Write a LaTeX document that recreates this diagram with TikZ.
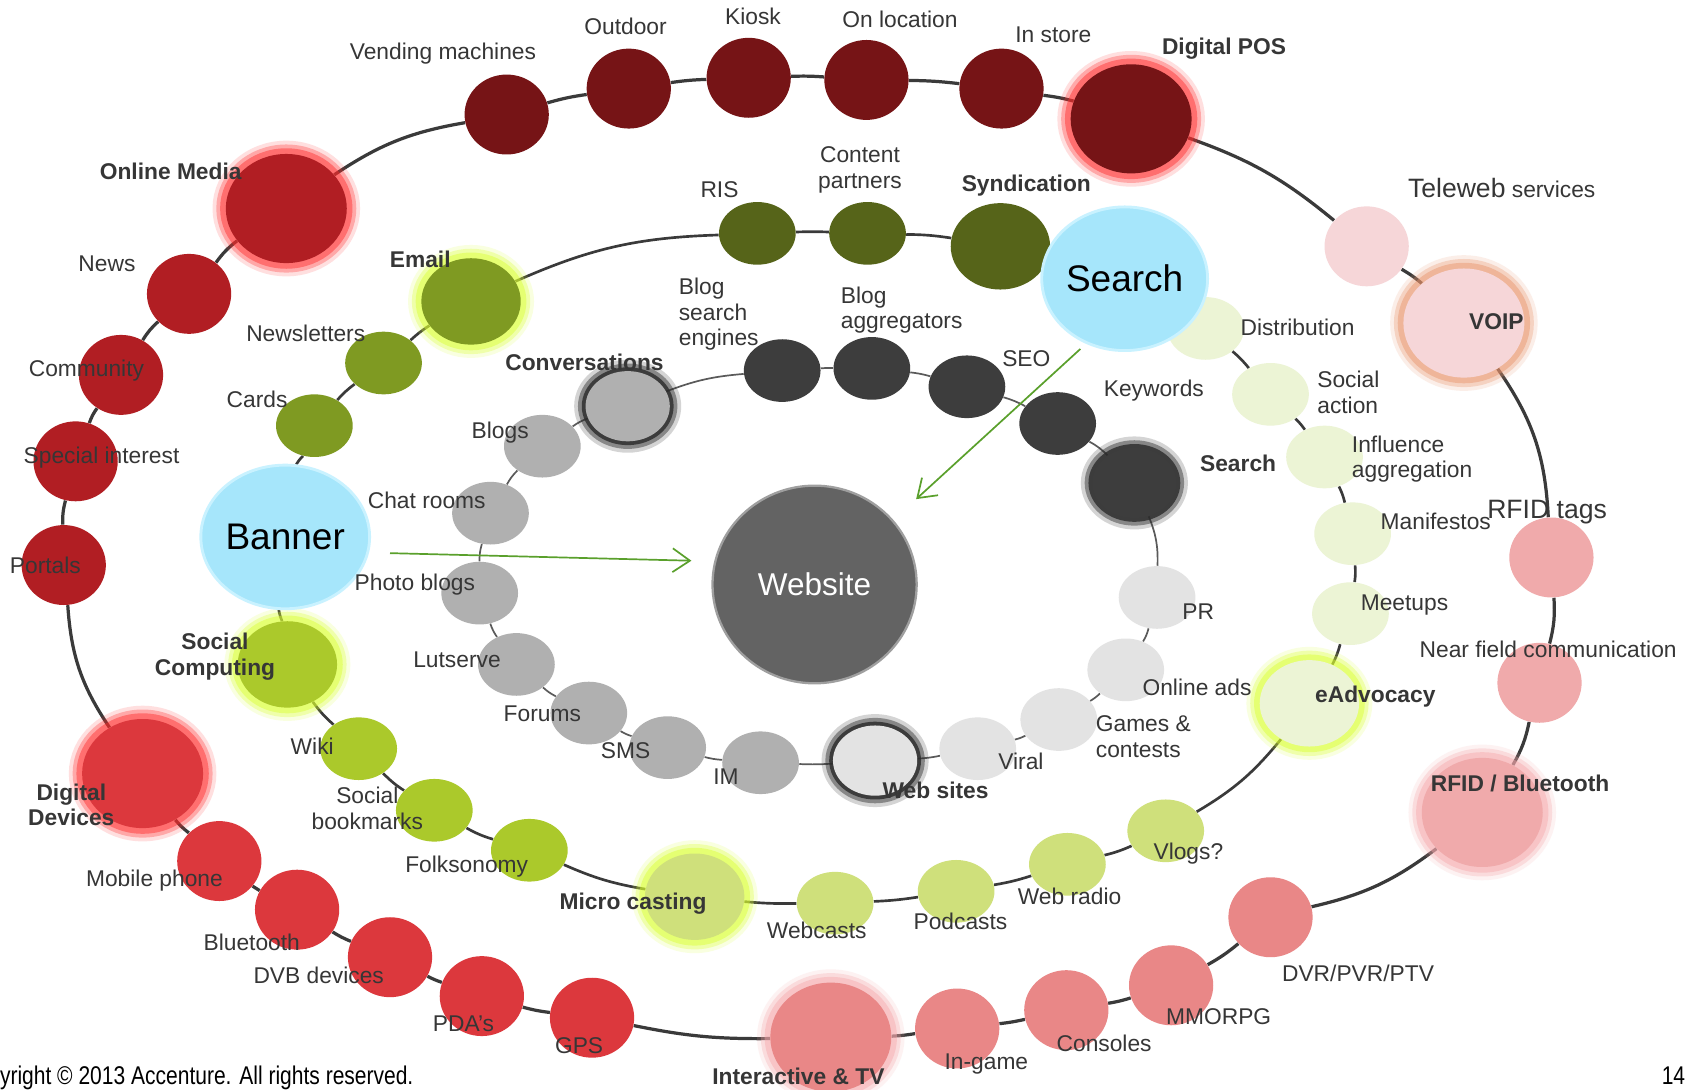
\documentclass[tikz,border=0pt]{standalone}
\usepackage{fontspec}
\setmainfont{Liberation Sans}
\newfontfamily\narrowfont[FakeStretch=0.82]{Liberation Sans}
\usetikzlibrary{shapes.geometric,arrows.meta,backgrounds}
\definecolor{cDR}{HTML}{761416}
\definecolor{cR}{HTML}{B11E23}
\definecolor{cRb}{HTML}{DC383D}
\definecolor{cPK}{HTML}{E98787}
\definecolor{cPKb}{HTML}{F0AAAB}
\definecolor{cPP}{HTML}{F6D6D8}
\definecolor{cGa}{HTML}{566419}
\definecolor{cGb}{HTML}{7F9A22}
\definecolor{cGc}{HTML}{ABC92B}
\definecolor{cGd}{HTML}{CFE07B}
\definecolor{cGe}{HTML}{ECF4D5}
\definecolor{cKa}{HTML}{B0B0B0}
\definecolor{cKb}{HTML}{3D3D3D}
\definecolor{cKc}{HTML}{E3E3E3}
\definecolor{cBlue}{HTML}{A6E6FB}
\definecolor{cBlueR}{HTML}{C9F2FF}
\definecolor{cWeb}{HTML}{636363}
\definecolor{glr}{HTML}{FF2A2A}
\definecolor{gor}{HTML}{E8926A}
\definecolor{gpk}{HTML}{F6A8AC}
\definecolor{gyg}{HTML}{DAFF30}
\definecolor{gdk}{HTML}{2A2A2A}
\definecolor{txt}{HTML}{363636}
\definecolor{lc}{HTML}{3A3A3A}
\definecolor{lcb}{HTML}{5A5A5A}
\definecolor{garc}{HTML}{5AA02C}
\begin{document}
\begin{tikzpicture}[x=0.02cm,y=-0.02cm,
  every node/.style={inner sep=0pt},
  sm/.style={ellipse, minimum width=1.56cm, minimum height=1.48cm},
  gs/.style={ellipse, minimum width=1.42cm, minimum height=1.16cm},
  md/.style={ellipse, minimum width=1.84cm, minimum height=1.60cm},
  im/.style={ellipse, minimum width=1.56cm, minimum height=1.30cm},
  lg/.style={ellipse, minimum width=2.24cm, minimum height=2.02cm},
  bl/.style={ellipse, minimum width=2.90cm, minimum height=2.66cm, fill=cBlue, draw=cBlueR, line width=1.5pt, font=\fontsize{19.5}{22}\selectfont, text=black},
  glow/.style={preaction={draw=#1, draw opacity=0.15, line width=14pt},
               preaction={draw=#1, draw opacity=0.3, line width=10pt},
               preaction={draw=#1, draw opacity=0.45, line width=6pt}},
  dglow/.style={preaction={draw=#1, draw opacity=0.2, line width=12pt},
               preaction={draw=#1, draw opacity=0.45, line width=8pt},
               preaction={draw=#1, draw opacity=0.8, line width=4pt}},
  lab/.style={font=\fontsize{12}{13.5}\selectfont, text=txt, align=center},
  llab/.style={font=\fontsize{12}{13.5}\selectfont, text=txt, align=left},
  blab/.style={font=\fontsize{12}{13.5}\selectfont\bfseries, text=txt, align=center},
  ring/.style={draw=lc, line width=1.7pt},
  ringb/.style={draw=lc, line width=1.4pt},
  ringc/.style={draw=lcb, line width=0.9pt},
  garrow/.style={draw=garc, line width=0.9pt, -{Straight Barb[length=3.2mm,width=4.4mm]}},
  foot/.style={font=\narrowfont\fontsize{13.5}{15}\selectfont, text=black}
]
\useasboundingbox (0,0) rectangle (1568,1008);

% ---------------- outer ring ----------------
\node[sm, fill=cDR] (vm) at (469,106) {};
\node[sm, fill=cDR] (od) at (582,82) {};
\node[sm, fill=cDR] (ki) at (693,72) {};
\node[sm, fill=cDR] (ol) at (802,74) {};
\node[sm, fill=cDR] (is) at (927,82) {};
\node[lg, fill=cDR, glow=glr] (dp) at (1047,110) {};
\node[sm, fill=cPP] (tw) at (1265,228) {};
\node[lg, fill=cPP, glow=gor] (vo) at (1355,299) {};
\node[sm, fill=cPKb] (rt) at (1436,516) {};
\node[sm, fill=cPKb] (nf) at (1425,632) {};
\node[lg, fill=cPKb, glow=gpk] (rb) at (1372,752) {};
\node[sm, fill=cPK] (dv) at (1176,849) {};
\node[sm, fill=cPK] (mm) at (1084,912) {};
\node[sm, fill=cPK] (co) at (987,935) {};
\node[sm, fill=cPK] (ig) at (886,952) {};
\node[lg, fill=cPK, glow=gpk] (it) at (769,960) {};
\node[sm, fill=cRb] (gp) at (548,942) {};
\node[sm, fill=cRb] (pd) at (446,922) {};
\node[sm, fill=cRb] (db) at (361,886) {};
\node[sm, fill=cRb] (bt) at (275,842) {};
\node[sm, fill=cRb] (mp) at (203,797) {};
\node[lg, fill=cRb, glow=glr] (dd) at (132,716) {};
\node[sm, fill=cR] (po) at (59,523) {};
\node[sm, fill=cR] (si) at (70,427) {};
\node[sm, fill=cR] (cm) at (112,347) {};
\node[sm, fill=cR] (nw) at (175,272) {};
\node[lg, fill=cR, glow=glr] (om) at (265,193) {};

% ---------------- green ring ----------------
\node[md, fill=cGb, glow=gyg] (em) at (436,279) {};
\node[gs, fill=cGa] (ris) at (701,216) {};
\node[gs, fill=cGa] (cp) at (803,216) {};
\node[md, fill=cGa] (sy) at (926,228) {};
\node[gs, fill=cGe] (di) at (1116,304) {};
\node[gs, fill=cGe] (sa) at (1176,365) {};
\node[gs, fill=cGe] (ia) at (1226,423) {};
\node[gs, fill=cGe] (ma) at (1252,494) {};
\node[gs, fill=cGe] (me) at (1250,568) {};
\node[md, fill=cGe, glow=gyg] (ea) at (1212,651) {};
\node[gs, fill=cGd] (vl) at (1079,769) {};
\node[gs, fill=cGd] (wr) at (988,800) {};
\node[gs, fill=cGd] (pc) at (885,825) {};
\node[gs, fill=cGd] (wc) at (773,836) {};
\node[md, fill=cGd, glow=gyg] (mc) at (643,830) {};
\node[gs, fill=cGc] (fo) at (490,787) {};
\node[gs, fill=cGc] (sbk) at (402,750) {};
\node[gs, fill=cGc] (wi) at (332,693) {};
\node[md, fill=cGc, glow=gyg] (sc) at (266,615) {};
\node[gs, fill=cGb] (ca) at (291,394) {};
\node[gs, fill=cGb] (nl) at (355,336) {};
\node[bl] (ban) at (264,497) {Banner};
\node[bl] (sbl) at (1041,258) {Search};

% ---------------- inner ring ----------------
\node[im, fill=cKa, dglow=gdk] (cv) at (581,376) {};
\node[gs, fill=cKb] (bse) at (724,343) {};
\node[gs, fill=cKb] (bag) at (807,341) {};
\node[gs, fill=cKb] (seo) at (895,358) {};
\node[gs, fill=cKb] (kw) at (979,392) {};
\node[im, fill=cKb, dglow=gdk] (sd) at (1050,447) {};
\node[gs, fill=cKc] (pr) at (1071,553) {};
\node[gs, fill=cKc] (oa) at (1042,620) {};
\node[gs, fill=cKc] (gc) at (980,666) {};
\node[gs, fill=cKc] (vi) at (905,693) {};
\node[im, fill=cKc, dglow=gdk] (ws) at (810,704) {};
\node[gs, fill=cKa] (imn) at (704,706) {};
\node[gs, fill=cKa] (sms) at (618,692) {};
\node[gs, fill=cKa] (fr) at (545,660) {};
\node[gs, fill=cKa] (lu) at (478,615) {};
\node[gs, fill=cKa] (pb) at (444,549) {};
\node[gs, fill=cKa] (cr) at (454,475) {};
\node[gs, fill=cKa] (blg) at (502,413) {};

% ---------------- centre ----------------
\node[ellipse, minimum width=3.78cm, minimum height=3.66cm, fill=cWeb, draw=gray!75, line width=1.2pt,
      font=\fontsize{16.6}{19}\selectfont, text=white] (web) at (754,541) {Website};

% ---------------- arrows ----------------
\coordinate (a1s) at (361,512);
\coordinate (a1e) at (640,519);
\coordinate (a2s) at (1000,323);
\coordinate (a2e) at (848,462);
\draw[garrow] (a1s) -- (a1e);
\draw[garrow] (a2s) -- (a2e);

% ---------------- labels ----------------
\node[lab] (lvm) at (410,50) {Vending machines};
\node[lab] (lod) at (579,24) {Outdoor};
\node[lab] (lki) at (697,15) {Kiosk};
\node[lab] (lol) at (833,18) {On location};
\node[lab] (lis) at (975,32) {In store};
\node[blab] (ldp) at (1133,45) {Digital POS};
\node[lab] (ltw) at (1390,174) {{\fontsize{14}{16}\selectfont Teleweb} services};
\node[blab] (lvo) at (1385,298) {VOIP};
\node[lab, font=\fontsize{14}{16}\selectfont] (lrt) at (1432,474) {RFID tags};
\node[lab] (lnf) at (1433,601) {Near field communication};
\node[blab] (lrb) at (1407,725) {RFID / Bluetooth};
\node[lab] (ldv) at (1257,901) {DVR/PVR/PTV};
\node[lab] (lmm) at (1128,941) {MMORPG};
\node[lab] (lco) at (1022,966) {Consoles};
\node[lab] (lig) at (913,985) {In-game};
\node[blab] (lit) at (739,996) {Interactive \& TV};
\node[lab] (lgp) at (536,968) {GPS};
\node[lab] (lpd) at (429,948) {PDA's};
\node[lab] (ldb) at (295,903) {DVB devices};
\node[lab] (lbt) at (233,872) {Bluetooth};
\node[lab] (lmp) at (143,815) {Mobile phone};
\node[blab] (ldd) at (66,745) {Digital\\Devices};
\node[lab] (lpo) at (42,523) {Portals};
\node[lab] (lsi) at (94,424) {Special interest};
\node[lab] (lcm) at (80,343) {Community};
\node[lab] (lnw) at (99,244) {News};
\node[blab] (lom) at (158,159) {Online Media};

\node[blab] (lem) at (389,240) {Email};
\node[lab] (lnl) at (283,309) {Newsletters};
\node[lab] (lca) at (238,370) {Cards};
\node[lab] (lris) at (666,176) {RIS};
\node[lab] (lcp) at (796,157) {Content\\partners};
\node[blab] (lsy) at (950,172) {Syndication};
\node[lab] (ldi) at (1201,303) {Distribution};
\node[llab, anchor=west] (lsa) at (1219,363) {Social\\action};
\node[llab, anchor=west] (lia) at (1251,425) {Influence\\aggregation};
\node[lab] (lma) at (1329,483) {Manifestos};
\node[lab] (lme) at (1300,560) {Meetups};
\node[blab] (lea) at (1273,645) {eAdvocacy};
\node[lab] (lvl) at (1100,790) {Vlogs?};
\node[lab] (lwr) at (990,830) {Web radio};
\node[lab] (lpc) at (889,853) {Podcasts};
\node[lab] (lwc) at (756,861) {Webcasts};
\node[blab] (lmc) at (586,836) {Micro casting};
\node[lab] (lfo) at (432,802) {Folksonomy};
\node[lab] (lsbk) at (340,748) {Social\\bookmarks};
\node[lab] (lwi) at (289,691) {Wiki};
\node[blab] (lsc) at (199,608) {Social\\Computing};

\node[blab] (lcv) at (541,335) {Conversations};
\node[llab, anchor=west] (lbse) at (628,291) {Blog\\search\\engines};
\node[llab, anchor=west] (lbag) at (778,287) {Blog\\aggregators};
\node[lab] (lseo) at (950,332) {SEO};
\node[lab] (lkw) at (1068,362) {Keywords};
\node[blab] (lsd) at (1146,429) {Search};
\node[lab] (lpr) at (1109,566) {PR};
\node[lab] (loa) at (1108,636) {Online ads};
\node[llab, anchor=west] (lgc) at (1014,682) {Games \&\\contests};
\node[lab] (lvi) at (945,705) {Viral};
\node[blab] (lws) at (866,732) {Web sites};
\node[lab] (lim) at (672,719) {IM};
\node[lab] (lsms) at (579,695) {SMS};
\node[lab] (lfr) at (502,661) {Forums};
\node[lab] (llu) at (423,611) {Lutserve};
\node[lab] (lpb) at (384,541) {Photo blogs};
\node[lab] (lcr) at (395,463) {Chat rooms};
\node[lab] (lblg) at (463,400) {Blogs};

\node[foot, anchor=east] (copy) at (383,998) {Copyright \textcopyright{} 2013 Accenture. All rights reserved.};
\node[foot] (pg) at (1549,996) {14};

% ---------------- connectors (behind) ----------------
\begin{scope}[on background layer]
\fill[white] (0,0) rectangle (1568,1008);
% outer ring
\draw[ring] (om) to[bend left=12] (vm);
\draw[ring] (vm) to[bend left=4] (od);
\draw[ring] (od) to[bend left=3] (ki);
\draw[ring] (ki) to[bend left=3] (ol);
\draw[ring] (ol) to[bend left=3] (is);
\draw[ring] (is) to[bend left=4] (dp);
\draw[ring] (dp) to[bend left=10] (tw);
\draw[ring] (tw) to[bend left=5] (vo);
\draw[ring] (vo) to[bend left=16] (rt);
\draw[ring] (rt) to[bend left=9] (nf);
\draw[ring] (nf) to[bend left=9] (rb);
\draw[ring] (rb) to[bend left=12] (dv);
\draw[ring] (dv) to[bend left=5] (mm);
\draw[ring] (mm) to[bend left=4] (co);
\draw[ring] (co) to[bend left=3] (ig);
\draw[ring] (ig) to[bend left=3] (it);
\draw[ring] (it) to[bend left=6] (gp);
\draw[ring] (gp) to[bend left=4] (pd);
\draw[ring] (pd) to[bend left=4] (db);
\draw[ring] (db) to[bend left=5] (bt);
\draw[ring] (bt) to[bend left=5] (mp);
\draw[ring] (mp) to[bend left=6] (dd);
\draw[ring] (dd) to[bend left=15] (po);
\draw[ring] (po) to[bend left=8] (si);
\draw[ring] (si) to[bend left=8] (cm);
\draw[ring] (cm) to[bend left=8] (nw);
\draw[ring] (nw) to[bend left=8] (om);
% green ring
\draw[ringb] (em) to[bend left=11] (ris);
\draw[ringb] (ris) to[bend left=2] (cp);
\draw[ringb] (cp) to[bend left=4] (sy);
\draw[ringb] (sy) to[bend left=5] (sbl);
\draw[ringb] (sbl) to[bend left=5] (di);
\draw[ringb] (di) to[bend left=5] (sa);
\draw[ringb] (sa) to[bend left=5] (ia);
\draw[ringb] (ia) to[bend left=6] (ma);
\draw[ringb] (ma) to[bend left=6] (me);
\draw[ringb] (me) to[bend left=6] (ea);
\draw[ringb] (ea) to[bend left=10] (vl);
\draw[ringb] (vl) to[bend left=5] (wr);
\draw[ringb] (wr) to[bend left=4] (pc);
\draw[ringb] (pc) to[bend left=3] (wc);
\draw[ringb] (wc) to[bend left=3] (mc);
\draw[ringb] (mc) to[bend left=7] (fo);
\draw[ringb] (fo) to[bend left=6] (sbk);
\draw[ringb] (sbk) to[bend left=6] (wi);
\draw[ringb] (wi) to[bend left=6] (sc);
\draw[ringb] (sc) to[bend left=6] (ban);
\draw[ringb] (ban) to[bend left=6] (ca);
\draw[ringb] (ca) to[bend left=6] (nl);
\draw[ringb] (nl) to[bend left=5] (em);
% inner ring
\draw[ringc] (cv) to[bend left=8] (bse);
\draw[ringc] (bse) to[bend left=2] (bag);
\draw[ringc] (bag) to[bend left=5] (seo);
\draw[ringc] (seo) to[bend left=6] (kw);
\draw[ringc] (kw) to[bend left=8] (sd);
\draw[ringc] (sd) to[bend left=12] (pr);
\draw[ringc] (pr) to[bend left=8] (oa);
\draw[ringc] (oa) to[bend left=6] (gc);
\draw[ringc] (gc) to[bend left=6] (vi);
\draw[ringc] (vi) to[bend left=4] (ws);
\draw[ringc] (ws) to[bend left=3] (imn);
\draw[ringc] (imn) to[bend left=5] (sms);
\draw[ringc] (sms) to[bend left=6] (fr);
\draw[ringc] (fr) to[bend left=7] (lu);
\draw[ringc] (lu) to[bend left=8] (pb);
\draw[ringc] (pb) to[bend left=8] (cr);
\draw[ringc] (cr) to[bend left=8] (blg);
\draw[ringc] (blg) to[bend left=8] (cv);
\end{scope}
\end{tikzpicture}
\end{document}
